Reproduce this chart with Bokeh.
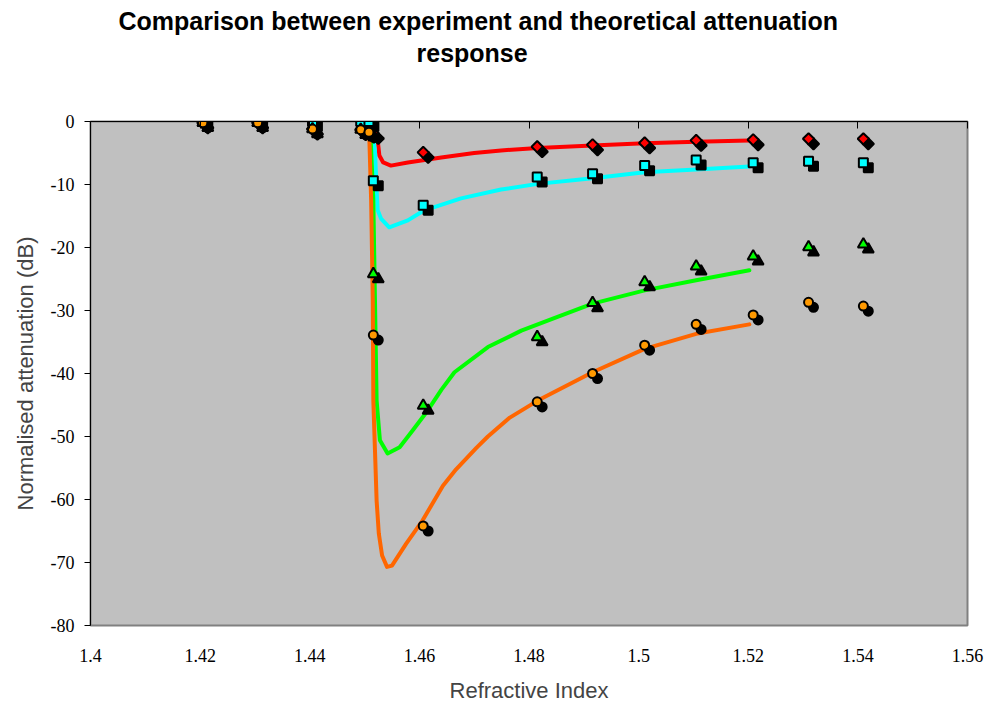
import math
from bokeh.plotting import figure
from bokeh.models import (LinearAxis, FixedTicker, CustomJSTickFormatter, Range1d, Title)
from bokeh.embed import file_html
from bokeh.resources import INLINE

# ---------------- data ----------------
# experimental points (refractive index)
n_exp = [1.4205, 1.4305, 1.4405, 1.4493, 1.4508, 1.4516, 1.4607,
         1.4815, 1.4916, 1.5011, 1.5105, 1.5209, 1.5310, 1.5410]
exp_red = [-0.2, -0.2, -1.2, -1.3, -1.7, -1.9, -4.9,
           -4.0, -3.7, -3.4, -3.0, -2.9, -2.75, -2.75]
exp_cyan = [0.0, 0.0, 0.0, 0.0, 0.0, -9.4, -13.3,
            -8.8, -8.3, -7.0, -6.1, -6.55, -6.3, -6.55]
exp_green = [-0.2, -0.2, -1.2, -1.3, -1.7, -24.2, -45.1,
             -34.2, -28.8, -25.5, -23.0, -21.4, -19.95, -19.5]
exp_orange = [-0.2, -0.2, -1.2, -1.3, -1.7, -33.9, -64.2,
              -44.5, -40.0, -35.5, -32.2, -30.7, -28.7, -29.3]

# theoretical curves
th_red_n = [1.4515, 1.4524, 1.4527, 1.4534, 1.4548, 1.4579, 1.4640,
            1.4700, 1.4749, 1.4816, 1.4916, 1.5011, 1.5105, 1.5202]
th_red_a = [-0.5, -3.0, -5.4, -6.5, -7.0, -6.5, -5.7,
            -5.0, -4.6, -4.2, -3.8, -3.45, -3.2, -3.0]

th_cyan_n = [1.4512, 1.4519, 1.4522, 1.4524, 1.4530, 1.4545, 1.4579,
             1.4609, 1.4676, 1.4749, 1.4816, 1.4916, 1.5011, 1.5105, 1.5202]
th_cyan_a = [-0.5, -4.6, -11.0, -14.1, -15.4, -16.8, -15.7,
             -14.1, -12.2, -10.8, -9.9, -9.0, -8.05, -7.6, -7.15]

th_green_n = [1.4510, 1.4516, 1.4519, 1.4522, 1.4528, 1.4542, 1.4564,
              1.4588, 1.4615, 1.4640, 1.4664, 1.4725, 1.4786, 1.4846,
              1.4916, 1.5011, 1.5105, 1.5202]
th_green_a = [-0.5, -12.5, -28.4, -44.3, -50.6, -52.7, -51.7,
              -49.0, -45.9, -42.6, -39.8, -35.8, -33.2, -31.2,
              -28.9, -26.8, -25.2, -23.6]

th_orange_n = [1.4508, 1.4512, 1.4515, 1.4516, 1.4519, 1.4522, 1.4526,
               1.4532, 1.4541, 1.4550, 1.4576, 1.4606, 1.4643, 1.4667,
               1.4704, 1.4725, 1.4765, 1.4816, 1.4916, 1.5011, 1.5105,
               1.5202]
th_orange_a = [-0.5, -12.5, -28.4, -44.3, -52.2, -60.2, -65.4,
               -68.9, -70.7, -70.5, -67.0, -63.3, -57.8, -55.2,
               -51.8, -50.0, -47.0, -44.3, -39.8, -36.1, -33.7,
               -32.2]

x_ticks = [1.40, 1.42, 1.44, 1.46, 1.48, 1.50, 1.52, 1.54, 1.56]
y_ticks = [-80, -70, -60, -50, -40, -30, -20, -10, 0]

title_line1 = "Comparison between experiment and theoretical attenuation"
title_line2 = "response"

# ---------------- style ----------------
SERIF = "Liberation Serif"
SANS = "Liberation Sans"
SHADOW_DX = 0.0009   # marker shadow offset (index units)
SHADOW_DY = -0.8     # marker shadow offset (dB)

p = figure(width=988, height=706, output_backend="svg", toolbar_location=None,
           x_range=Range1d(1.40, 1.56), y_range=Range1d(-80, 0),
           min_border_left=90, min_border_right=21,
           min_border_top=121, min_border_bottom=81, title=None)

p.background_fill_color = "#C0C0C0"
p.border_fill_color = "white"
p.outline_line_color = "#808080"
p.outline_line_width = 2
p.xgrid.visible = False
p.ygrid.visible = False

xt = FixedTicker(ticks=x_ticks)
xfmt = CustomJSTickFormatter(code="return Number(tick.toFixed(2)).toString();")
empty_fmt = CustomJSTickFormatter(code="return '';")

xa = p.xaxis[0]
xa.ticker = xt
xa.formatter = xfmt
xa.axis_line_color = None
xa.major_tick_line_color = None
xa.minor_tick_line_color = None
xa.major_tick_in = 0
xa.major_tick_out = 0
xa.major_label_standoff = 23
xa.major_label_text_font = SERIF
xa.major_label_text_font_size = "18px"
xa.major_label_text_color = "black"
xa.axis_label = "Refractive Index"
xa.axis_label_text_font = SANS
xa.axis_label_text_font_size = "22px"
xa.axis_label_text_font_style = "normal"
xa.axis_label_standoff = 13

# top axis: only the inward tick marks, labels left empty
top = LinearAxis(ticker=xt, formatter=empty_fmt,
                 major_label_text_font_size="1px",
                 major_label_standoff=0, major_tick_in=7, major_tick_out=0,
                 minor_tick_line_color=None, axis_line_color="black",
                 major_tick_line_color="black")
p.add_layout(top, "above")

# invisible spacer between plot area and title
spacer = LinearAxis(ticker=xt, formatter=empty_fmt,
                    major_label_text_font_size="1px",
                    major_label_standoff=0, major_tick_in=0, major_tick_out=54,
                    minor_tick_line_color=None, axis_line_color=None,
                    major_tick_line_color=None)
p.add_layout(spacer, "above")

ya = p.yaxis[0]
ya.ticker = FixedTicker(ticks=y_ticks)
ya.formatter = CustomJSTickFormatter(code="return tick.toFixed(0);")
ya.axis_line_color = "black"
ya.major_tick_in = 0
ya.major_tick_out = 6
ya.minor_tick_line_color = None
ya.major_label_standoff = 10
ya.major_label_text_font = SERIF
ya.major_label_text_font_size = "18px"
ya.major_label_text_color = "black"
ya.axis_label = "Normalised attenuation (dB)"
ya.axis_label_text_font = SANS
ya.axis_label_text_font_size = "22px"
ya.axis_label_text_font_style = "normal"
ya.axis_label_standoff = 10

# theoretical curves
for xs, ys, col in [(th_red_n, th_red_a, "#FF0000"),
                    (th_cyan_n, th_cyan_a, "#00FFFF"),
                    (th_green_n, th_green_a, "#00FF00"),
                    (th_orange_n, th_orange_a, "#FF6600")]:
    p.line(xs, ys, line_color=col, line_width=4, line_join="round", line_cap="round")

# experimental markers with shadow
for ys, marker, ang, col, size in [(exp_red, "square", math.pi / 4, "#FF0000", 8),
                                   (exp_cyan, "square", 0.0, "#00FFFF", 9),
                                   (exp_green, "triangle", 0.0, "#00FF00", 11),
                                   (exp_orange, "circle", 0.0, "#FF9900", 9)]:
    p.scatter([v + SHADOW_DX for v in n_exp], [v + SHADOW_DY for v in ys],
              marker=marker, angle=ang, size=size, fill_color="black",
              line_color="black", line_width=2)
    p.scatter(n_exp, ys, marker=marker, angle=ang, size=size, fill_color=col,
              line_color="black", line_width=2)

# title: two lines, each its own Title (nearest the plot added first)
HAS_STANDOFF = "standoff" in Title.properties()
for txt, off, gap in [(title_line2, 326, 2), (title_line1, 28, 1)]:
    t = Title(text=txt, align="left", offset=off,
              text_font=SANS, text_font_style="bold",
              text_font_size="25px", text_color="black")
    if HAS_STANDOFF:
        t.standoff = gap
    p.add_layout(t, "above")

open("out.html", "w").write(file_html(p, INLINE))
